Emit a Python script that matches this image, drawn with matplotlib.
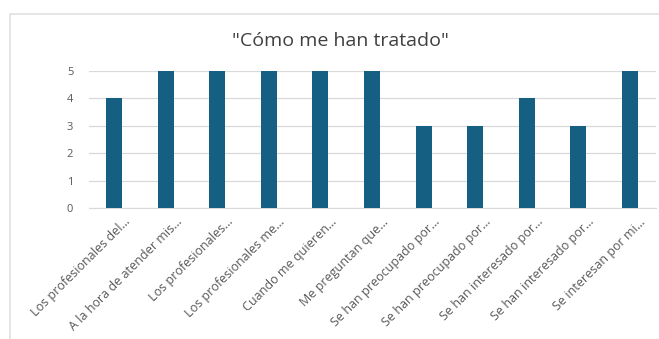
import matplotlib.pyplot as plt
import matplotlib.transforms as mtransforms
from matplotlib.patches import Rectangle

plt.rcParams["font.family"] = ["Open Sans", "DejaVu Sans"]

categories = [
    "Los profesionales del…",
    "A la hora de atender mis…",
    "Los profesionales…",
    "Los profesionales me…",
    "Cuando me quieren…",
    "Me preguntan que…",
    "Se han preocupado por…",
    "Se han preocupado por…",
    "Se han interesado por…",
    "Se han interesado por…",
    "Se interesan por mi…",
]
values = [4, 5, 5, 5, 5, 5, 3, 3, 4, 3, 5]
yticks = [0, 1, 2, 3, 4, 5]

BAR = "#156082"
GRID = "#d9d9d9"
TXT = "#595959"

fig = plt.figure(figsize=(6.59, 3.39), dpi=100)
ax = fig.add_axes([0.1343, 0.3864, 0.8604, 0.4042])

# chart frame
fig.patches.append(
    Rectangle(
        (10 / 659, -0.1), 1.2, 1 - 14 / 339 + 0.1,
        transform=fig.transFigure, fill=False, edgecolor="#e0e0e0", lw=1.2,
    )
)

x = range(len(values))
ax.bar(x, values, width=0.31, color=BAR, zorder=3)

ax.set_xlim(-0.5, len(values) - 0.5)
ax.set_ylim(0, 5)
ax.set_yticks(yticks)
ax.yaxis.grid(True, color=GRID, lw=0.9, zorder=0)
ax.tick_params(axis="y", length=0, pad=11, labelsize=8, labelcolor=TXT)
ax.tick_params(axis="x", length=0, pad=0)
ax.set_xticks(list(x))
ax.set_xticklabels(
    categories, rotation=45, ha="right", va="center", rotation_mode="anchor",
    fontsize=9, color=TXT,
)
# shift labels so their ends sit below-right of each bar
offset = mtransforms.ScaledTranslation(14 / 100, -12 / 100, fig.dpi_scale_trans)
for lab in ax.get_xticklabels():
    lab.set_transform(lab.get_transform() + offset)

for s in ["top", "right", "left"]:
    ax.spines[s].set_visible(False)
ax.spines["bottom"].set_color(GRID)

fig.text(0.516, 0.88, '"Cómo me han tratado"', ha="center", va="center",
         fontsize=14, color="#404040")

fig.savefig("out.png", dpi=100)
